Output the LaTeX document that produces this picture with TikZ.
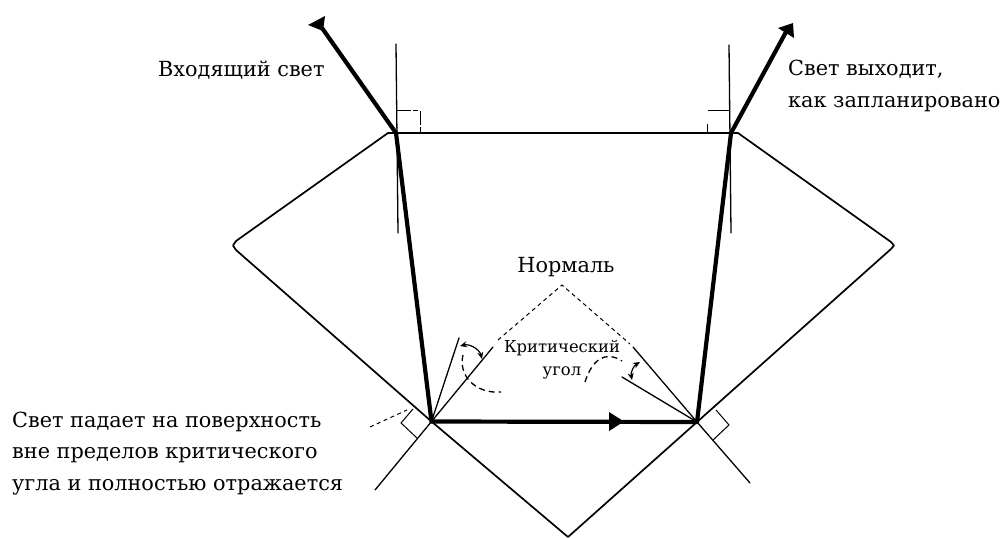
\documentclass[tikz,border=0pt]{standalone}
\usepackage{fontspec}
\setmainfont{DejaVu Serif}
\usetikzlibrary{arrows.meta}
\tikzset{
  thinline/.style={line width=1.3pt,black,line cap=round},
  edge/.style={line width=1.7pt,black,line join=round},
  ray/.style={line width=4.2pt,black},
  mark90/.style={line width=1pt,black},
  dashline/.style={line width=1pt,black,dash pattern=on 4pt off 3.5pt},
  dashcurve/.style={line width=1.3pt,black,dash pattern=on 6pt off 4pt},
  anglearrow/.style={line width=1.2pt,black,{Stealth[length=7pt,width=6pt]}-{Stealth[length=7pt,width=6pt]}},
  lab/.style={font=\fontsize{20.8}{26}\selectfont,inner sep=0pt},
  smalllab/.style={font=\fontsize{16.4}{22}\selectfont,inner sep=0pt,align=center}
}
\begin{document}
\begin{tikzpicture}[x=1pt,y=-1pt]
\useasboundingbox (0,0) rectangle (1008,538);
\fill[white] (0,0) rectangle (1008,538);
% key points
\coordinate (TLc) at (388,133);
\coordinate (TRc) at (738,133);
\coordinate (B) at (568,537);
\coordinate (A) at (396,133);
\coordinate (C) at (731,133);
\coordinate (HL) at (431.5,421.5);
\coordinate (HR) at (697,422);
\coordinate (Apex) at (562,285);
% gem outline
\draw[edge] (TLc) -- (TRc) -- (891,242) -- (894,245.5) -- (891,249) -- (HR) -- (B) -- (HL) -- (236,250) -- (233,245.5) -- (236,241) -- cycle;
% thin verticals
\draw[thinline] (396,44) -- (398,233);
\draw[thinline] (729,45) -- (731,233);
% right angle marks
\draw[mark90,dash pattern=on 14pt off 2pt on 5pt off 3pt] (397,110) -- (420,110) -- (420,133);
\draw[mark90] (729,110) -- (708,110);
\draw[mark90] (707,124) -- (707,133);
\draw[mark90] (413,409) -- (401,423) -- (417,438);
\draw[mark90] (716,410) -- (729,425) -- (713,440);
% normals
\coordinate (NL) at (493,347);
\coordinate (NR) at (633,347);
\coordinate (SL) at (375,490);
\coordinate (SR) at (750,483);
\draw[thinline] (HL) -- (NL);
\draw[thinline] (HR) -- (NR);
\draw[thinline] (HL) -- (SL);
\draw[thinline] (HR) -- (SR);
\draw[thinline] (HL) -- (459,338);
\draw[thinline] (HR) -- (622,377);
% dashed normals
\draw[dashline] (498,340) -- (Apex) -- (630,344);
\draw[dashline] (370,427) -- (407,410);
% angle arcs
\draw[anglearrow] (460,346) to[bend left=45] (482,359);
\draw[anglearrow] (640,362) to[bend right=35] (632,380);
% dashed curves
\draw[dashcurve] (463,355) .. controls (458,375) and (475,394) .. (501,392);
\draw[dashcurve] (585,382) .. controls (592,360) and (605,350) .. (622,361);
% rays
\draw[ray] (A) -- (HL) -- (HR) -- (C);
\draw[ray] (A) -- (322,28);
\draw[ray] (C) -- (786,32);
\fill[black] (308,25) -- (325,16) -- (323,31) -- cycle;
\fill[black] (793,23) -- (778,28) -- (794,38) -- cycle;
\fill[black] (609,412) -- (624,421.5) -- (609,431) -- cycle;
% labels
\node[lab,anchor=base west] (t1) at (158,76) {Входящий свет};
\node[lab,anchor=base west] (t2) at (788,75) {Свет выходит,};
\node[lab,anchor=base west] (t3) at (788,107) {как запланировано};
\node[lab,anchor=base] (t4) at (566,272) {Нормаль};
\node[smalllab,anchor=base] (t5) at (562,352) {Критический};
\node[smalllab,anchor=base] (t6) at (562,375) {угол};
\node[lab,anchor=base west] (t7) at (12,427) {Свет падает на поверхность};
\node[lab,anchor=base west] (t8) at (12,458) {вне пределов критического};
\node[lab,anchor=base west] (t9) at (12,490) {угла и полностью отражается};
\end{tikzpicture}
\end{document}
